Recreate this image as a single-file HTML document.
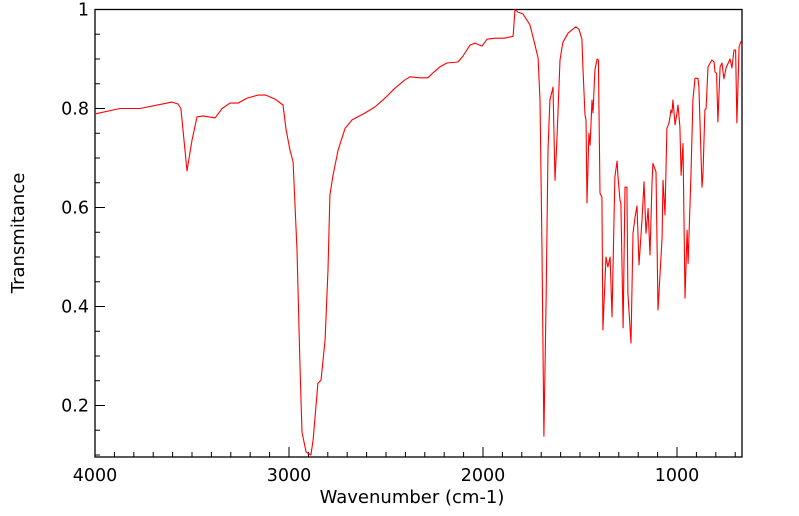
<!DOCTYPE html>
<html><head><meta charset="utf-8"><style>
body{margin:0;background:#fff;}
svg{display:block;font-family:"DejaVu Sans","Liberation Sans",sans-serif;}
</style></head><body>
<svg id="chart" width="799" height="516" viewBox="0 0 799 516" xmlns="http://www.w3.org/2000/svg">
<rect x="0" y="0" width="799" height="516" fill="#fff"/>
<g id="axes"></g>
<path id="series" fill="none" stroke="#ff0000" stroke-width="1.1" stroke-linejoin="round"/>
<text x="412" y="503" font-size="18" text-anchor="middle">Wavenumber (cm-1)</text>
<text x="0" y="0" font-size="18" text-anchor="middle" transform="translate(24,233) rotate(-90)">Transmitance</text>
</svg>
<script>
const wavenumbers=[4000,3871,3768,3603,3572,3557,3526,3500,3474,3443,3381,3345,3304,3263,3216,3160,3119,3072,3031,3015,2995,2979,2959,2943,2933,2912,2887,2876,2851,2835,2814,2799,2789,2773,2747,2711,2675,2608,2557,2505,2454,2402,2376,2325,2284,2258,2222,2186,2129,2103,2067,2041,2005,1979,1938,1887,1845,1835,1820,1794,1758,1732,1716,1706,1696,1686,1675,1665,1655,1639,1629,1619,1603,1588,1562,1541,1521,1505,1490,1485,1474,1469,1464,1454,1448,1438,1433,1423,1412,1405,1397,1387,1382,1366,1356,1345,1335,1320,1309,1304,1294,1289,1278,1268,1258,1253,1237,1227,1216,1206,1196,1180,1170,1160,1149,1139,1129,1124,1108,1098,1077,1072,1062,1052,1041,1031,1026,1021,1010,1000,995,985,979,969,959,948,943,928,918,907,892,887,871,866,856,850,840,820,809,804,796,789,778,768,758,747,727,717,706,698,691,680,670,665];
const transmittance=[0.789,0.800,0.800,0.813,0.809,0.800,0.674,0.736,0.783,0.785,0.781,0.800,0.811,0.811,0.821,0.827,0.827,0.819,0.807,0.757,0.716,0.692,0.514,0.272,0.146,0.106,0.100,0.130,0.245,0.251,0.333,0.474,0.625,0.665,0.716,0.760,0.777,0.791,0.803,0.821,0.841,0.858,0.864,0.862,0.862,0.872,0.884,0.892,0.894,0.906,0.928,0.932,0.926,0.940,0.942,0.942,0.946,1.000,0.995,0.991,0.969,0.928,0.902,0.817,0.514,0.138,0.413,0.716,0.817,0.843,0.655,0.736,0.898,0.934,0.952,0.959,0.965,0.960,0.940,0.884,0.787,0.777,0.609,0.750,0.726,0.817,0.791,0.878,0.900,0.898,0.629,0.621,0.353,0.500,0.480,0.500,0.379,0.662,0.694,0.662,0.615,0.608,0.357,0.641,0.641,0.427,0.326,0.548,0.581,0.603,0.484,0.578,0.652,0.548,0.598,0.504,0.649,0.689,0.672,0.393,0.540,0.655,0.585,0.760,0.771,0.797,0.791,0.817,0.767,0.791,0.807,0.763,0.665,0.729,0.417,0.554,0.487,0.669,0.817,0.861,0.861,0.843,0.641,0.669,0.797,0.800,0.884,0.898,0.894,0.874,0.871,0.773,0.884,0.892,0.860,0.882,0.900,0.882,0.918,0.918,0.771,0.925,0.935,0.928];
const xMajorTicks=[4000,3000,2000,1000];
const yMajorTicks=[0.2,0.4,0.6,0.8,1];
const yTickLabels=["0.2","0.4","0.6","0.8","1"];

const L=95,R=742,T=9.5,B=457;
const xMax=4000,xMin=4000-(R-L)/0.194;
const yMax=1,yMin=1-(B-T)/495;
const sx=w=>L+(xMax-w)/(xMax-xMin)*(R-L);
const sy=v=>T+(yMax-v)/(yMax-yMin)*(B-T);
const NS="http://www.w3.org/2000/svg";
const axes=document.getElementById('axes');
function mk(tag,attrs){const e=document.createElementNS(NS,tag);for(const k in attrs)e.setAttribute(k,attrs[k]);axes.appendChild(e);return e;}

const frame=mk('rect',{x:L,y:T,width:R-L,height:B-T,fill:'none',stroke:'#000','stroke-width':1.3});



for(let w=4000;w>=xMin;w-=100){
  const major=xMajorTicks.includes(w);
  const t=mk('line',{x1:sx(w),x2:sx(w),y1:B,y2:B-(major?10:5),stroke:'#000','stroke-width':1});
  
  
}
xMajorTicks.forEach(w=>{
  const t=mk('text',{x:sx(w),y:B+24,'font-size':17.5,'text-anchor':'middle'});
  t.textContent=String(w);
  
  
});
for(let i=2;i<=20;i++){
  const v=i*0.05;
  if(v<yMin)continue;
  const major=(i%4===0);
  const t=mk('line',{x1:L,x2:L+(major?10:5),y1:sy(v),y2:sy(v),stroke:'#000','stroke-width':1});
  
  
}
yMajorTicks.forEach((v,i)=>{
  const t=mk('text',{x:L-6,y:sy(v)+6,'font-size':17.5,'text-anchor':'end'});
  t.textContent=yTickLabels[i];
  
  
});

let d='';
wavenumbers.forEach((w,i)=>{d+=(i?'L':'M')+sx(w).toFixed(1)+','+sy(transmittance[i]).toFixed(1);});
document.getElementById('series').setAttribute('d',d);
</script>
</body></html>
